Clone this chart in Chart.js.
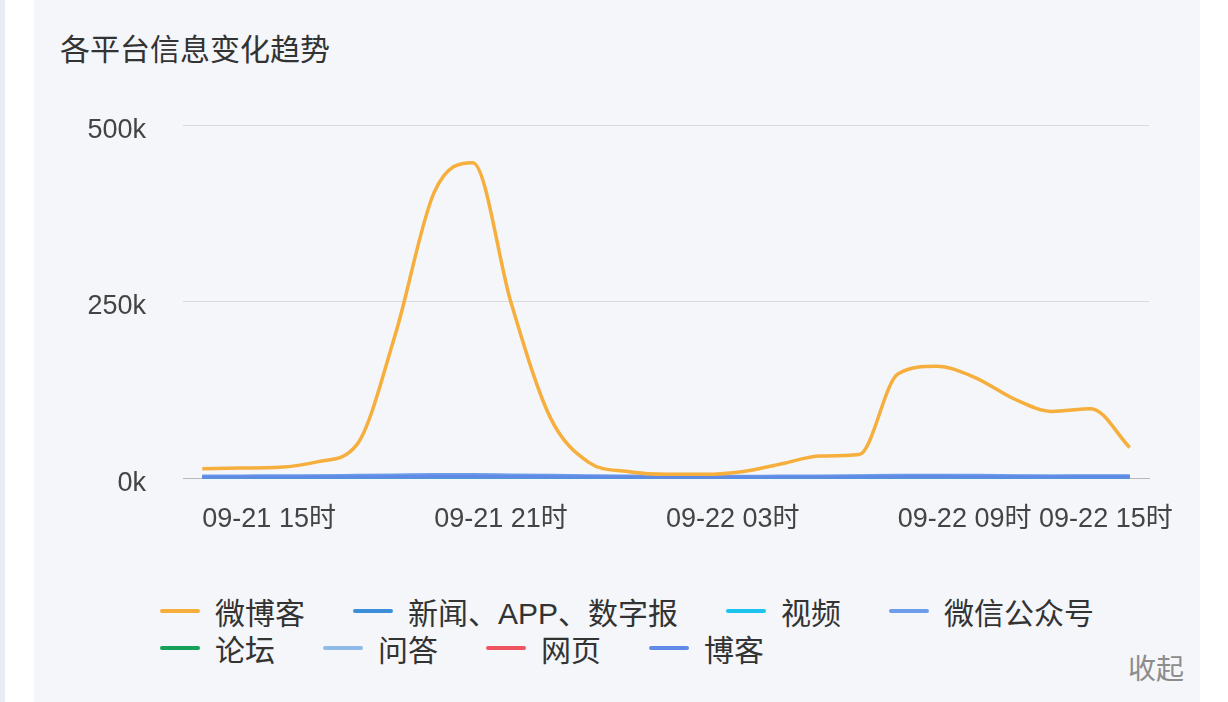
<!DOCTYPE html>
<html lang="zh-CN">
<head>
<meta charset="utf-8">
<title>各平台信息变化趋势</title>
<script src="https://cdn.jsdelivr.net/npm/chart.js@4.4.1/dist/chart.umd.min.js"></script>
<style>
  html, body {
    margin: 0;
    padding: 0;
    width: 1228px;
    height: 702px;
    overflow: hidden;
    background: #fff;
    font-family: "Liberation Sans", "Noto Sans CJK SC", sans-serif;
  }
  .strip { position: absolute; left: 0; top: 0; width: 5px; height: 702px; background: #e8ecf2; }
  .card { position: absolute; left: 34px; top: 0; width: 1166px; height: 702px; background: #f4f6f9; }
  .title { position: absolute; left: 26px; top: 32px; font-size: 30px; line-height: 36px; color: #333; }
  .chart-box { position: absolute; left: 0; top: 72px; width: 1166px; height: 504px; }
  .legend {
    position: absolute; left: 126px; top: 592px; width: 1040px;
    display: flex; flex-wrap: wrap; column-gap: 48px;
  }
  .legend-item { display: flex; align-items: center; height: 37px; font-size: 30px; color: #333; }
  .legend-mark { width: 40px; height: 4px; border-radius: 2px; margin-right: 15px; }
  .collapse { position: absolute; left: 1094px; top: 652px; font-size: 28px; line-height: 36px; color: #8c8c8c; }
</style>
</head>
<body>
<div class="strip"></div>
<div class="card">
  <div class="title">各平台信息变化趋势</div>
  <div class="chart-box"><canvas id="trendChart"></canvas></div>
  <div class="legend" id="legend"></div>
  <div class="collapse">收起</div>
</div>

<script>
  // ==================== Data ====================
  const categories = [
    '09-21 15时', '09-21 16时', '09-21 17时', '09-21 18时', '09-21 19时',
    '09-21 20时', '09-21 21时', '09-21 22时', '09-21 23时', '09-22 00时',
    '09-22 01时', '09-22 02时', '09-22 03时', '09-22 04时', '09-22 05时',
    '09-22 06时', '09-22 07时', '09-22 08时', '09-22 09时', '09-22 10时',
    '09-22 11时', '09-22 12时', '09-22 13时', '09-22 14时', '09-22 15时'
  ];

  const shownTicks = ['09-21 15时', '09-21 21时', '09-22 03时', '09-22 09时'];
  const lastTick = '09-22 15时';
  const yTicks = [0, 250000, 500000];

  const seriesNames = ['微博客', '新闻、APP、数字报', '视频', '微信公众号', '论坛', '问答', '网页', '博客'];
  const seriesColors = ['#f6ae3c', '#3d8ed8', '#1cc3ef', '#6d9de8', '#16a05c', '#8fbbe8', '#ef5560', '#6189e6'];
  const seriesOrder = [0, 3, 3, 2, 3, 3, 3, 1];

  const weibo = [14000, 15000, 16000, 24000, 48000, 205000, 405000, 447000, 247000, 87000,
    23000, 10000, 6000, 6000, 10000, 21000, 32000, 34000, 148000, 159000,
    143000, 113000, 95000, 99000, 44000];
  const news = [2000, 2000, 2000, 2500, 2500, 3000, 3000, 3000, 3000, 2500,
    2000, 2000, 1500, 1500, 1500, 2000, 2000, 2500, 3000, 3000,
    3000, 2500, 2500, 2500, 2500];
  const video = [500, 500, 500, 500, 600, 800, 900, 900, 800, 600,
    500, 400, 300, 300, 300, 400, 500, 500, 700, 800,
    700, 600, 600, 600, 500];
  const wechat = [3000, 3000, 3500, 3500, 4000, 4500, 5000, 5000, 4500, 4000,
    3500, 3000, 2500, 2500, 2500, 3000, 3000, 3500, 4000, 4000,
    4000, 3500, 3000, 3500, 3500];
  const forum = [300, 300, 300, 300, 400, 500, 500, 500, 400, 400,
    300, 300, 200, 200, 200, 300, 300, 300, 400, 400,
    400, 300, 300, 300, 300];
  const qa = [200, 200, 200, 200, 200, 300, 300, 300, 300, 200,
    200, 200, 100, 100, 100, 200, 200, 200, 300, 300,
    300, 200, 200, 200, 200];
  const web = [1000, 1000, 1000, 1200, 1300, 1500, 1600, 1600, 1500, 1300,
    1100, 1000, 800, 800, 800, 900, 1000, 1100, 1400, 1500,
    1400, 1300, 1200, 1200, 1200];
  const blog = [1500, 1500, 1500, 1800, 2000, 2200, 2500, 2500, 2300, 2000,
    1800, 1500, 1200, 1200, 1200, 1500, 1500, 1800, 2000, 2200,
    2000, 1800, 1800, 1800, 1800];

  const seriesValues = [weibo, news, video, wechat, forum, qa, web, blog];

  // ==================== Chart ====================
  Chart.defaults.font.family = '"Liberation Sans", "Noto Sans CJK SC", sans-serif';

  const datasets = seriesNames.map((name, i) => ({
    label: name,
    data: seriesValues[i],
    order: seriesOrder[i],
    borderColor: seriesColors[i],
    backgroundColor: seriesColors[i],
    borderWidth: i === 0 ? 3.5 : 4,
    pointRadius: 0,
    fill: false,
    cubicInterpolationMode: 'monotone'
  }));

  const tickFont = { size: 27 };

  // x2 only carries the last label; put it on the same row as the x labels
  const shareLabelRow = {
    id: 'shareLabelRow',
    afterLayout(chart) {
      const x = chart.scales.x;
      const x2 = chart.scales.x2;
      x2.top = x.top;
      x2.bottom = x.bottom;
      x2.height = x.height;
    }
  };

  const chart = new Chart(document.getElementById('trendChart'), {
    type: 'line',
    data: { labels: categories, datasets: datasets },
    plugins: [shareLabelRow],
    options: {
      responsive: true,
      maintainAspectRatio: false,
      animation: false,
      layout: { padding: { top: 0, right: 51, bottom: 15, left: 0 } },
      plugins: {
        legend: { display: false },
        tooltip: { enabled: false }
      },
      scales: {
        x: {
          offset: true,
          grid: { display: false, drawTicks: false },
          border: { display: true, color: '#b8b8b8', width: 1 },
          ticks: {
            autoSkip: false,
            maxRotation: 0,
            minRotation: 0,
            align: 'start',
            padding: 25,
            color: '#444',
            font: tickFont,
            callback: function(value) {
              const label = this.getLabelForValue(value);
              return shownTicks.includes(label) ? label : '';
            }
          }
        },
        x2: {
          type: 'category',
          position: 'bottom',
          offset: true,
          grid: { display: false, drawTicks: false },
          border: { display: false },
          ticks: {
            autoSkip: false,
            maxRotation: 0,
            minRotation: 0,
            align: 'end',
            labelOffset: 43,
            padding: 25,
            color: '#444',
            font: tickFont,
            callback: function(value) {
              const label = this.getLabelForValue(value);
              return label === lastTick ? label : '';
            }
          },
          afterFit: scale => { scale.height = 0; }
        },
        y: {
          min: yTicks[0],
          max: yTicks[yTicks.length - 1],
          afterBuildTicks: scale => { scale.ticks = yTicks.map(v => ({ value: v })); },
          grid: { color: '#d9dadd', lineWidth: 1, drawTicks: false },
          border: { display: false },
          ticks: {
            padding: 37,
            labelOffset: 5,
            color: '#444',
            font: tickFont,
            callback: value => (value / 1000) + 'k'
          },
          afterFit: scale => { scale.width = 149; }
        }
      }
    }
  });

  // ==================== HTML legend ====================
  const legendEl = document.getElementById('legend');
  seriesNames.forEach((name, i) => {
    const item = document.createElement('div');
    item.className = 'legend-item';
    const mark = document.createElement('span');
    mark.className = 'legend-mark';
    mark.style.background = chart.data.datasets[i].borderColor;
    const text = document.createElement('span');
    text.textContent = name;
    item.appendChild(mark);
    item.appendChild(text);
    legendEl.appendChild(item);
  });
</script>
</body>
</html>
